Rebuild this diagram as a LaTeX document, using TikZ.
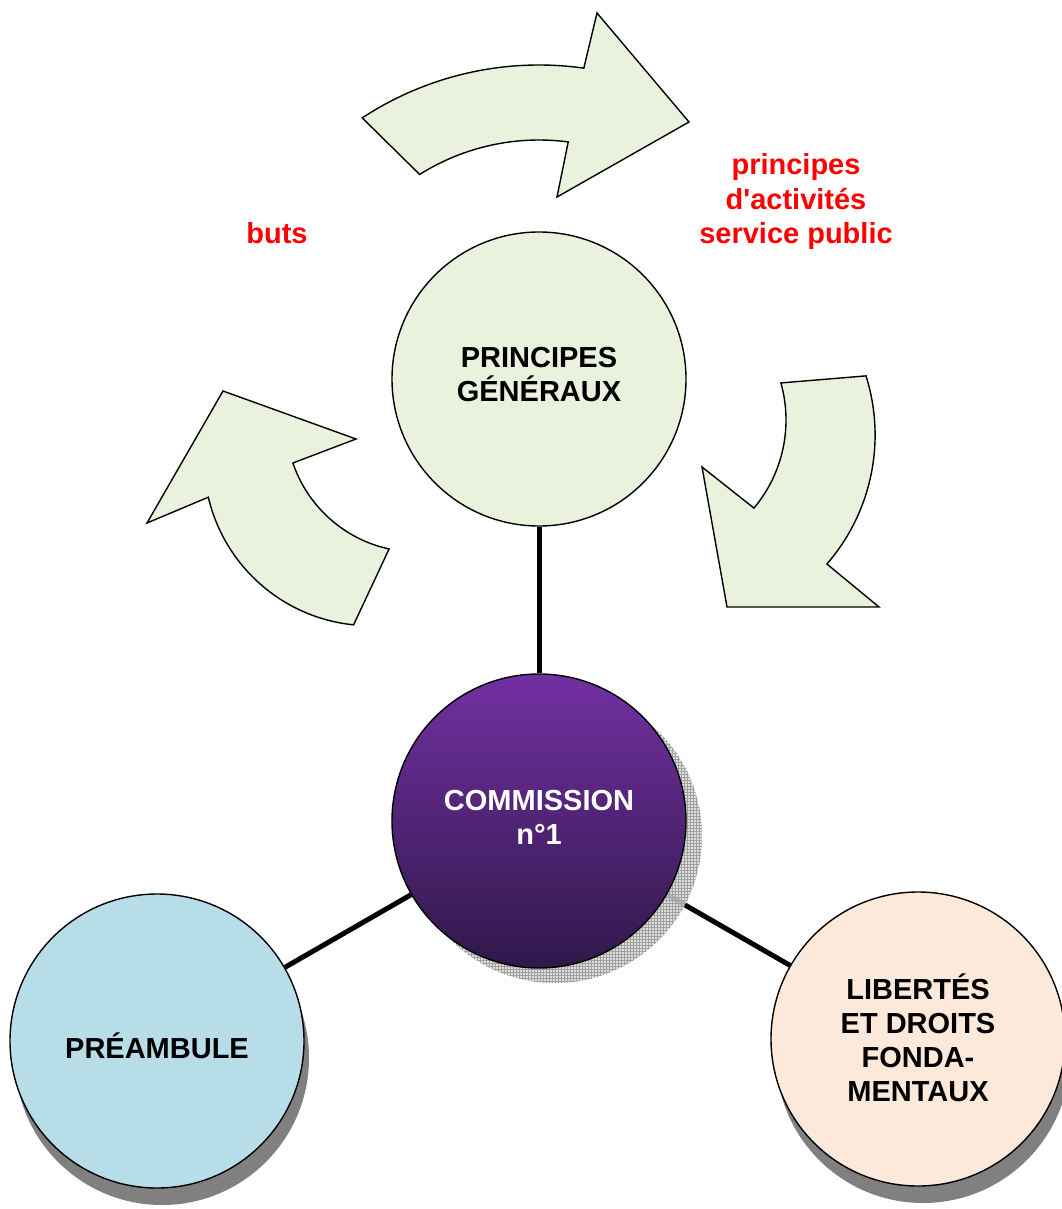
\documentclass[tikz,border=0pt]{standalone}
\usepackage{fontspec}
\setmainfont{Liberation Sans}
\usetikzlibrary{patterns,shadows,calc}
\definecolor{pgreen}{RGB}{234,241,221}
\definecolor{pblue}{RGB}{183,221,232}
\definecolor{ppeach}{RGB}{253,233,217}
\definecolor{ptop}{RGB}{114,48,162}
\definecolor{pbot}{RGB}{48,24,74}
\definecolor{sgray}{RGB}{128,128,128}
\pgfdeclarelayer{bg}
\pgfsetlayers{bg,main}
\begin{document}
\begin{tikzpicture}[x=1pt,y=-1pt,
  bubble/.style={circle, draw=black, line width=1.4pt, minimum size=294pt, inner sep=0pt},
  btxt/.style={align=center, inner sep=0pt, font=\bfseries\fontsize{29}{34}\selectfont},
  shadowed/.style={drop shadow={shadow xshift=5pt, shadow yshift=-17pt, fill=sgray, opacity=1}},
  conn/.style={line width=5pt, black},
  blockarrow/.style={fill=pgreen, draw=black, line width=1.4pt, line join=miter},
  redtxt/.style={text=red, align=center, font=\bfseries\fontsize{29}{34.5}\selectfont}]
\useasboundingbox (0,0) rectangle (1061,1209);

% circles
\node[bubble, fill=pgreen] (pg) at (539,379) {};
\node[bubble, top color=ptop, bottom color=pbot, draw=black] (com) at (539,821) {};
\node[bubble, fill=pblue, shadowed] (pre) at (157,1041) {};
\node[bubble, fill=ppeach, shadowed] (lib) at (918,1039) {};

\node[btxt] (pgt) at (539,375) {PRINCIPES\\GÉNÉRAUX};
\node[btxt, text=white] (comt) at (539,817) {COMMISSION\\n°1};
\node[btxt] (pret) at (157,1046) {PRÉAMBULE};
\node[btxt] (libt) at (918,1038) {LIBERTÉS\\ET DROITS\\FONDA-\\MENTAUX};

\begin{pgfonlayer}{bg}
  \draw[conn] (pg) -- (com);
  \draw[conn] (com) -- (pre);
  \draw[conn] (com) -- (lib);
  \fill[gray!30, opacity=0.85] (555,836) circle[radius=147];
  \fill[pattern=grid, pattern color=gray!75] (555,836) circle[radius=147];
\end{pgfonlayer}

% curved block arrows
\draw[blockarrow] ($(539,387)+(-123.3:322)$)
  arc[start angle=-123.3, end angle=-82, radius=322]
  -- (597,13) -- (689,122) -- (557,197)
  -- ($(539,364)+(-82.5:224)$)
  arc[start angle=-82.5, end angle=-122.2, radius=224]
  -- cycle;

\draw[blockarrow] (147,523) -- (223,391) -- (356,439)
  -- ($(417,421)+(161.3:131)$)
  arc[start angle=161.3, end angle=102.3, radius=131]
  -- ($(370.4,459.2)+(95.8:166.5)$)
  arc[start angle=95.8, end angle=166.8, radius=166.5]
  -- cycle;

\draw[blockarrow] (727,607) -- (702,467)
  -- ($(649,420)+(40:137)$)
  arc[start angle=40, end angle=-15.7, radius=137]
  -- ($(678.5,435)+(-17.5:196.6)$)
  arc[start angle=-17.5, end angle=41, radius=196.6]
  -- (879,607) -- cycle;

% labels
\node[redtxt] (buts) at (277,233) {buts};
\node[redtxt] (pas) at (796,202) {principes\\d\textquotesingle activités\\service public};
\end{tikzpicture}
\end{document}
